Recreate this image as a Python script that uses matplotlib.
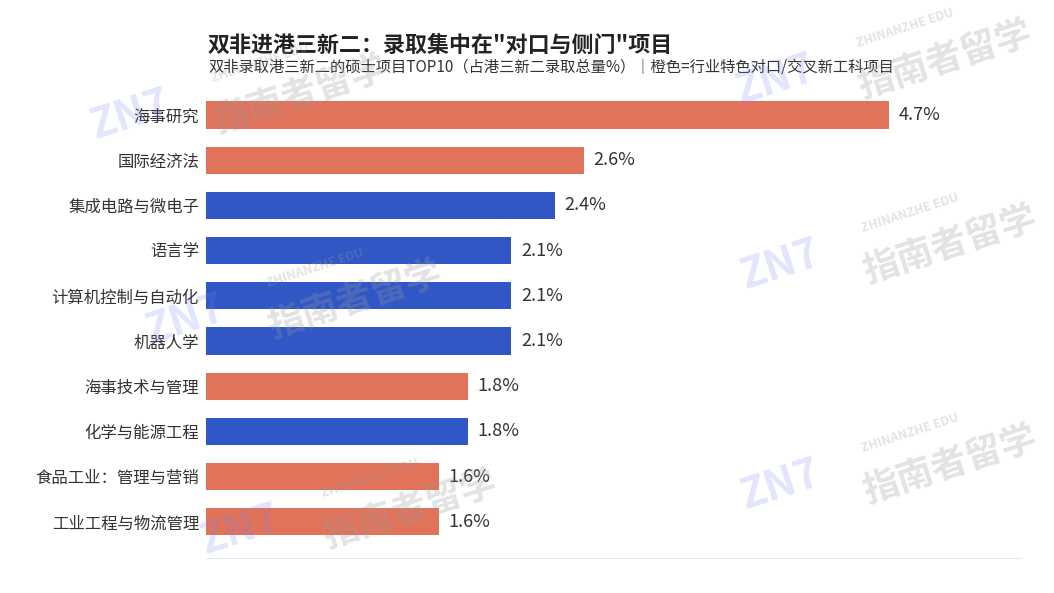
"""Horizontal bar chart: top-10 master's programmes for non-985/211 admits to HK universities."""
import matplotlib
matplotlib.use("Agg")
import matplotlib.pyplot as plt

plt.rcParams["font.family"] = ["Noto Sans CJK SC", "DejaVu Sans"]

programs = ["海事研究", "国际经济法", "集成电路与微电子", "语言学", "计算机控制与自动化",
            "机器人学", "海事技术与管理", "化学与能源工程", "食品工业：管理与营销", "工业工程与物流管理"]
shares = [4.7, 2.6, 2.4, 2.1, 2.1, 2.1, 1.8, 1.8, 1.6, 1.6]
is_niche = [True, True, False, False, False, False, True, False, True, True]

ORANGE = "#e2735b"
BLUE = "#3157c7"
TEXT = "#333333"

fig = plt.figure(figsize=(10.54, 5.93), dpi=100)
ax = fig.add_axes([206 / 1054, 1 - 558 / 593, (1020 - 206) / 1054, (558 - 92.4) / 593])

ys = list(range(len(programs)))
colors = [ORANGE if n else BLUE for n in is_niche]
ax.barh(ys, shares, height=0.6, color=colors, zorder=2)
for y, v in zip(ys, shares):
    ax.annotate(f"{v:.1f}%", (v, y), xytext=(7, 0), textcoords="offset points",
                va="center", ha="left", fontsize=13, color=TEXT)

ax.set_xlim(0, 5.6)
ax.set_ylim(len(programs) - 1 + 0.8, -0.5)
ax.set_yticks(ys)
ax.set_yticklabels(programs, fontsize=11.8, color=TEXT)
ax.tick_params(axis="y", length=0, pad=5)
ax.set_xticks([])
for side in ("top", "right", "left"):
    ax.spines[side].set_visible(False)
ax.spines["bottom"].set_color("#e3e8ef")

fig.text(208 / 1054, 1 - 45 / 593, '双非进港三新二：录取集中在"对口与侧门"项目',
         fontsize=15.8, fontweight="bold", color="#222222", va="center", ha="left")
fig.text(208 / 1054, 1 - 67 / 593,
         "双非录取港三新二的硕士项目TOP10（占港三新二录取总量%）｜橙色=行业特色对口/交叉新工科项目",
         fontsize=11, color=TEXT, va="center", ha="left")

# faint watermarks
marks = [(300, 95), (355, 300), (410, 510), (950, 245), (950, 465), (945, 60)]
for mx, my in marks:
    fig.text(mx / 1054, 1 - my / 593, "指南者留学", fontsize=26, fontweight="bold",
             color="#9a9a9a", alpha=0.28, rotation=18, ha="center", va="center", zorder=10)
    fig.text((mx - 40) / 1054, 1 - (my - 32) / 593, "ZHINANZHE EDU", fontsize=9,
             fontweight="bold", color="#9a9a9a", alpha=0.28, rotation=18,
             ha="center", va="center", zorder=10)
    fig.text((mx - 170) / 1054, 1 - (my + 20) / 593, "ZN7", fontsize=30, fontweight="bold",
             style="italic", color="#6f7ff0", alpha=0.2, rotation=18,
             ha="center", va="center", zorder=10)

fig.savefig("out.png", dpi=100)
